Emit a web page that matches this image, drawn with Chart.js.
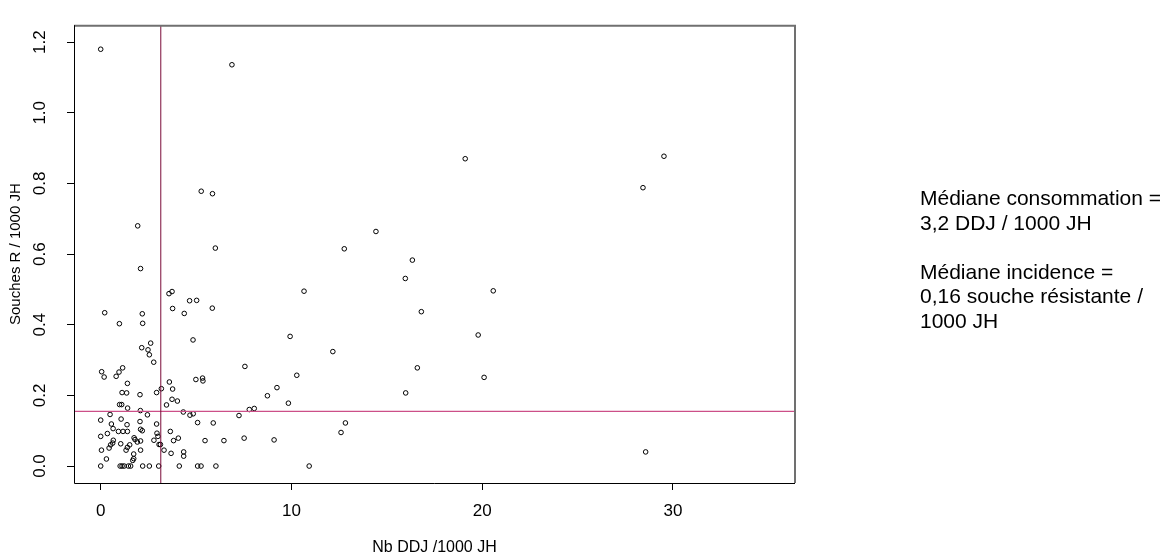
<!DOCTYPE html>
<html>
<head>
<meta charset="utf-8">
<script src="https://cdn.jsdelivr.net/npm/chart.js@4.4.1/dist/chart.umd.min.js"></script>
<style>
  html, body { margin: 0; padding: 0; background: #fff; }
  #wrap { position: relative; width: 1173px; height: 557px; }
  #note {
    position: absolute; left: 920px; top: 186px;
    font-family: "Liberation Sans", Arial, sans-serif;
    font-size: 21px; line-height: 24.5px; color: #000; white-space: nowrap;
  }
</style>
</head>
<body>
<div id="wrap">
  <canvas id="chart" width="1173" height="557"></canvas>
  <div id="note">
    Médiane consommation =<br>
    3,2 DDJ / 1000 JH<br>
    <br>
    Médiane incidence =<br>
    0,16 souche résistante /<br>
    1000 JH
  </div>
</div>
<script>
// Nb DDJ / 1000 JH (x) for each hospital
const ddj = [
  0, 6.88, 19.11, 29.53, 28.43, 5.27, 5.86, 1.94, 14.43, 6.01,
  12.77, 16.34, 2.09, 15.97, 3.58, 3.74, 10.66, 20.58, 4.66, 5.03,
  3.77, 5.85, 0.21, 2.18, 4.38, 16.81, 0.98, 2.20, 19.79, 9.93,
  4.84, 2.62, 2.15, 2.48, 12.17, 2.55, 2.78, 7.56, 16.60, 1.15,
  0.05, 0.96, 10.28, 0.18, 0.81, 20.10, 5.34, 4.99, 5.36, 3.60,
  1.40, 9.24, 3.18, 3.77, 1.12, 1.36, 2.93, 15.99, 2.06, 8.74,
  3.74, 4.02, 9.84, 0.99, 1.10, 3.45, 1.41, 8.05, 7.79, 2.08,
  4.33, 4.85, 0.49, 2.45, 4.68, 7.25, 0, 1.07, 2.06, 5.08,
  5.90, 12.83, 0.56, 2.93, 1.38, 0.65, 2.09, 2.18, 0.93, 1.17,
  1.40, 3.65, 12.60, 2.95, 0.35, 0, 3.00, 1.75, 4.07, 7.52,
  1.80, 9.09, 0.66, 2.79, 3.82, 5.47, 6.46, 2.09, 1.92, 0.63,
  1.05, 3.06, 3.13, 1.52, 0.52, 1.40, 0.44, 1.33, 0.04, 2.09,
  3.32, 28.57, 4.35, 3.69, 1.73, 4.35, 1.73, 0.30, 1.68,
  0, 1.02, 1.12, 1.23, 1.45, 1.57, 2.20, 2.55, 3.04, 4.12,
  5.08, 5.26, 6.04, 10.93
];

// Souches R / 1000 JH (y), same order
const souches = [
  1.180, 1.136, 0.870, 0.877, 0.788, 0.778, 0.771, 0.680, 0.664, 0.617,
  0.615, 0.583, 0.559, 0.531, 0.488, 0.494, 0.495, 0.496, 0.468, 0.469,
  0.446, 0.447, 0.434, 0.431, 0.432, 0.437, 0.403, 0.404, 0.371, 0.367,
  0.357, 0.348, 0.335, 0.329, 0.324, 0.315, 0.294, 0.282, 0.278, 0.278,
  0.267, 0.266, 0.257, 0.252, 0.254, 0.251, 0.249, 0.245, 0.241, 0.238,
  0.234, 0.222, 0.219, 0.218, 0.208, 0.207, 0.208, 0.207, 0.202, 0.199,
  0.189, 0.184, 0.178, 0.174, 0.174, 0.173, 0.164, 0.163, 0.160, 0.157,
  0.153, 0.148, 0.146, 0.145, 0.144, 0.143, 0.130, 0.133, 0.126, 0.123,
  0.122, 0.122, 0.119, 0.119, 0.117, 0.106, 0.104, 0.100, 0.098, 0.098,
  0.098, 0.098, 0.095, 0.093, 0.092, 0.084, 0.084, 0.080, 0.079, 0.079,
  0.075, 0.074, 0.073, 0.073, 0.072, 0.072, 0.072, 0.071, 0.068, 0.065,
  0.063, 0.061, 0.061, 0.060, 0.060, 0.053, 0.051, 0.045, 0.045, 0.045,
  0.045, 0.040, 0.040, 0.036, 0.034, 0.028, 0.021, 0.020, 0.016,
  0, 0, 0, 0, 0, 0, 0, 0, 0, 0,
  0, 0, 0, 0
];

// Medians drawn as reference lines
const medianDDJ = 3.15;
const medianIncidence = 0.155;

// Axis ticks and limits (R style: xlim 0-35, ylim 0-1.2, 4% extension)
const xTicks = [0, 10, 20, 30];
const yTicks = [0, 0.2, 0.4, 0.6, 0.8, 1.0, 1.2];
const xMin = -1.4, xMax = 36.4;
const yMin = -0.048, yMax = 1.248;

Chart.defaults.font.family = '"Liberation Sans", Arial, sans-serif';
Chart.defaults.color = '#000';

// Box around the plot region: left/bottom black, top/right a bit greyer like the scan
const boxPlugin = {
    id: 'box',
    afterDatasetsDraw(chart) {
        const { ctx, chartArea: a } = chart;
        ctx.save();
        ctx.strokeStyle = '#707070';
        ctx.lineWidth = 2;
        ctx.beginPath();
        ctx.moveTo(a.left, a.top + 0.5);
        ctx.lineTo(a.right, a.top + 0.5);
        ctx.lineTo(a.right, a.bottom);
        ctx.stroke();
        ctx.strokeStyle = '#000';
        ctx.lineWidth = 1;
        ctx.beginPath();
        ctx.moveTo(a.left + 0.5, a.top);
        ctx.lineTo(a.left + 0.5, a.bottom + 0.5);
        ctx.lineTo(a.right, a.bottom + 0.5);
        ctx.stroke();
        ctx.restore();
    }
};

const points = ddj.map((x, i) => ({ x: x, y: souches[i] }));

new Chart(document.getElementById('chart'), {
    type: 'scatter',
    data: {
        datasets: [
            {
                type: 'line',
                data: [{ x: medianDDJ, y: yMin }, { x: medianDDJ, y: yMax }],
                borderColor: '#7a0a38',
                borderWidth: 1,
                pointRadius: 0
            },
            {
                type: 'line',
                data: [{ x: xMin, y: medianIncidence }, { x: xMax, y: medianIncidence }],
                borderColor: '#cc4f88',
                borderWidth: 1.2,
                pointRadius: 0
            },
            {
                data: points,
                pointStyle: 'circle',
                pointRadius: 2.3,
                borderColor: '#000',
                borderWidth: 1,
                backgroundColor: 'rgba(0,0,0,0)'
            }
        ]
    },
    options: {
        responsive: false,
        animation: false,
        layout: { padding: { top: 10, right: 378, bottom: 0, left: 0 } },
        plugins: {
            legend: { display: false },
            tooltip: { enabled: false }
        },
        scales: {
            x: {
                type: 'linear',
                min: xMin,
                max: xMax,
                afterBuildTicks: (scale) => { scale.ticks = xTicks.map(v => ({ value: v })); },
                afterFit: (scale) => { scale.height = 74; },
                grid: { drawOnChartArea: false, drawTicks: true, tickLength: 7, color: '#000' },
                border: { display: false },
                ticks: {
                    padding: 11,
                    font: { size: 17 },
                    maxRotation: 0,
                    callback: (value) => String(value)
                },
                title: {
                    display: true,
                    text: 'Nb DDJ /1000 JH',
                    font: { size: 16 },
                    padding: { top: 0, bottom: 0 }
                }
            },
            y: {
                type: 'linear',
                min: yMin,
                max: yMax,
                afterBuildTicks: (scale) => { scale.ticks = yTicks.map(v => ({ value: v })); },
                afterFit: (scale) => { scale.width = 74; },
                grid: { drawOnChartArea: false, drawTicks: true, tickLength: 7, color: '#000' },
                border: { display: false },
                ticks: {
                    padding: 15,
                    font: { size: 17 },
                    minRotation: 90,
                    maxRotation: 90,
                    crossAlign: 'center',
                    callback: (value) => value.toFixed(1)
                },
                title: {
                    display: true,
                    text: 'Souches R / 1000 JH',
                    font: { size: 15 },
                    padding: { top: 7, bottom: 0 }
                }
            }
        }
    },
    plugins: [boxPlugin]
});
</script>
</body>
</html>
